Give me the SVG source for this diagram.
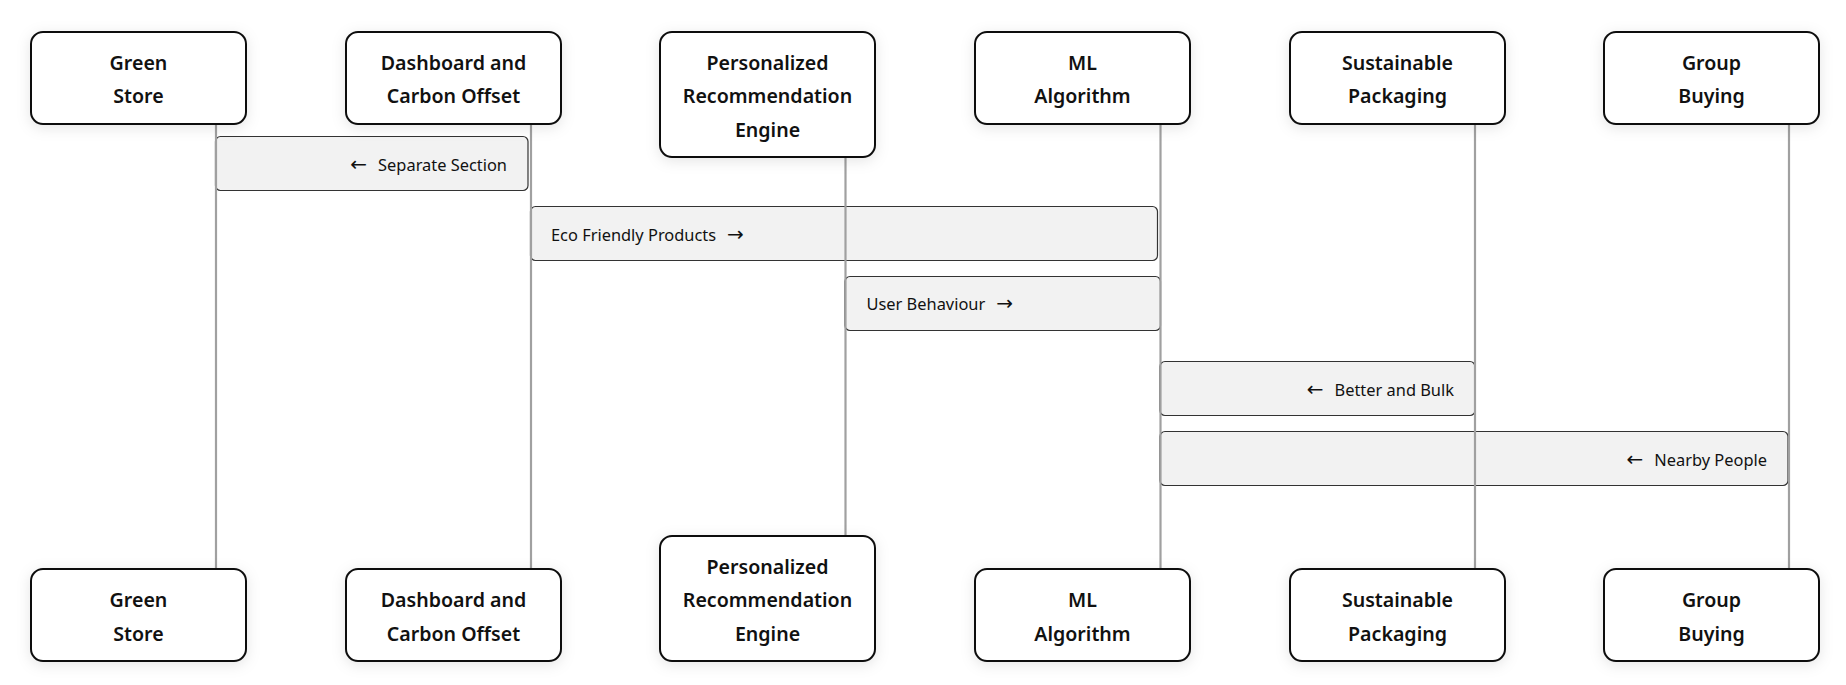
<svg xmlns="http://www.w3.org/2000/svg" width="1846" height="685" viewBox="0 0 1846 685">
  <defs>
    <filter id="shadow" x="-20%" y="-20%" width="140%" height="150%">
      <feDropShadow dx="0" dy="3" stdDeviation="7" flood-color="#000" flood-opacity="0.10"/>
    </filter>
  </defs>
  <style>
    .actor { fill: #ffffff; stroke: #111111; stroke-width: 2; filter: url(#shadow); }
    .alabel { font-family: "Noto Sans", "Open Sans", sans-serif; font-size: 19.6px; font-weight: 600; fill: #111111; text-anchor: middle; }
    .life { stroke: #a0a0a0; stroke-width: 2.2; fill: none; }
    .msg { fill: #f2f2f2; stroke: #333333; stroke-width: 1.2; }
    .mlabel { font-family: "Noto Sans", "Open Sans", sans-serif; font-size: 16.4px; fill: #111111; }
    .arr { font-family: "DejaVu Sans", sans-serif; font-size: 20px; }
  </style>
  <rect width="1846" height="685" fill="#ffffff"/>

  <g id="messages">
    <g id="msg-separate-section">
      <rect class="msg" x="215.5" y="136.5" width="312.5" height="54" rx="5"/>
      <text class="mlabel" x="507" y="170.5" text-anchor="end"><tspan class="arr">←</tspan><tspan dx="11">Separate Section</tspan></text>
    </g>
    <g id="msg-eco-friendly-products">
      <rect class="msg" x="530.5" y="206.5" width="627" height="54" rx="5"/>
      <text class="mlabel" x="551" y="240.5">Eco Friendly Products<tspan class="arr" dx="11">→</tspan></text>
    </g>
    <g id="msg-user-behaviour">
      <rect class="msg" x="845" y="276.5" width="315.5" height="54" rx="5"/>
      <text class="mlabel" x="866.5" y="310">User Behaviour<tspan class="arr" dx="11">→</tspan></text>
    </g>
    <g id="msg-better-and-bulk">
      <rect class="msg" x="1160" y="361.5" width="315" height="54" rx="5"/>
      <text class="mlabel" x="1454" y="395.5" text-anchor="end"><tspan class="arr">←</tspan><tspan dx="11">Better and Bulk</tspan></text>
    </g>
    <g id="msg-nearby-people">
      <rect class="msg" x="1160" y="431.5" width="628" height="54" rx="5"/>
      <text class="mlabel" x="1767" y="465.5" text-anchor="end"><tspan class="arr">←</tspan><tspan dx="11">Nearby People</tspan></text>
    </g>
  </g>

  <g id="connectors">
    <line class="life" x1="216" y1="124" x2="216" y2="569"/>
    <line class="life" x1="531" y1="124" x2="531" y2="569"/>
    <line class="life" x1="845.5" y1="157" x2="845.5" y2="536"/>
    <line class="life" x1="1160.5" y1="124" x2="1160.5" y2="569"/>
    <line class="life" x1="1475" y1="124" x2="1475" y2="569"/>
    <line class="life" x1="1789" y1="124" x2="1789" y2="569"/>
  </g>

  <g id="node-green-store">
    <rect class="actor" x="31" y="32" width="215" height="92" rx="12"/>
    <text class="alabel" x="138.5" y="69.5">Green</text>
    <text class="alabel" x="138.5" y="103">Store</text>
  </g>
  <g id="node-dashboard">
    <rect class="actor" x="346" y="32" width="215" height="92" rx="12"/>
    <text class="alabel" x="453.5" y="69.5">Dashboard and</text>
    <text class="alabel" x="453.5" y="103">Carbon Offset</text>
  </g>
  <g id="node-personalized">
    <rect class="actor" x="660" y="32" width="215" height="125" rx="12"/>
    <text class="alabel" x="767.5" y="69.5">Personalized</text>
    <text class="alabel" x="767.5" y="103">Recommendation</text>
    <text class="alabel" x="767.5" y="136.5">Engine</text>
  </g>
  <g id="node-ml">
    <rect class="actor" x="975" y="32" width="215" height="92" rx="12"/>
    <text class="alabel" x="1082.5" y="69.5">ML</text>
    <text class="alabel" x="1082.5" y="103">Algorithm</text>
  </g>
  <g id="node-sustainable">
    <rect class="actor" x="1290" y="32" width="215" height="92" rx="12"/>
    <text class="alabel" x="1397.5" y="69.5">Sustainable</text>
    <text class="alabel" x="1397.5" y="103">Packaging</text>
  </g>
  <g id="node-group-buying">
    <rect class="actor" x="1604" y="32" width="215" height="92" rx="12"/>
    <text class="alabel" x="1711.5" y="69.5">Group</text>
    <text class="alabel" x="1711.5" y="103">Buying</text>
  </g>

  <g id="node-green-store-bottom">
    <rect class="actor" x="31" y="569" width="215" height="92" rx="12"/>
    <text class="alabel" x="138.5" y="607">Green</text>
    <text class="alabel" x="138.5" y="640.5">Store</text>
  </g>
  <g id="node-dashboard-bottom">
    <rect class="actor" x="346" y="569" width="215" height="92" rx="12"/>
    <text class="alabel" x="453.5" y="607">Dashboard and</text>
    <text class="alabel" x="453.5" y="640.5">Carbon Offset</text>
  </g>
  <g id="node-personalized-bottom">
    <rect class="actor" x="660" y="536" width="215" height="125" rx="12"/>
    <text class="alabel" x="767.5" y="574">Personalized</text>
    <text class="alabel" x="767.5" y="607">Recommendation</text>
    <text class="alabel" x="767.5" y="640.5">Engine</text>
  </g>
  <g id="node-ml-bottom">
    <rect class="actor" x="975" y="569" width="215" height="92" rx="12"/>
    <text class="alabel" x="1082.5" y="607">ML</text>
    <text class="alabel" x="1082.5" y="640.5">Algorithm</text>
  </g>
  <g id="node-sustainable-bottom">
    <rect class="actor" x="1290" y="569" width="215" height="92" rx="12"/>
    <text class="alabel" x="1397.5" y="607">Sustainable</text>
    <text class="alabel" x="1397.5" y="640.5">Packaging</text>
  </g>
  <g id="node-group-buying-bottom">
    <rect class="actor" x="1604" y="569" width="215" height="92" rx="12"/>
    <text class="alabel" x="1711.5" y="607">Group</text>
    <text class="alabel" x="1711.5" y="640.5">Buying</text>
  </g>
</svg>
